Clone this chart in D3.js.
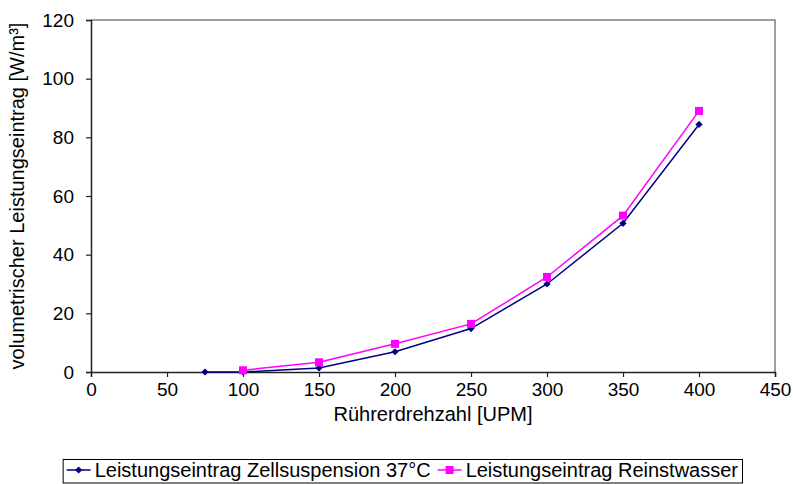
<!DOCTYPE html>
<html>
<head>
<meta charset="utf-8">
<script src="https://cdn.jsdelivr.net/npm/d3@7"></script>
<style>
  html, body { margin: 0; padding: 0; background: #fff; }
  svg { display: block; font-family: "Liberation Sans", Arial, sans-serif; }
</style>
</head>
<body>
<svg id="chart" width="793" height="484"></svg>
<script>
// Stirrer speed [rpm] and volumetric power input [W/m³]
const rpmCells  = [75, 100, 150, 200, 250, 300, 350, 400];
const powerCells = [0, 0, 1.4, 6.9, 14.8, 30.0, 50.7, 84.4];
const rpmWater  = [100, 150, 200, 250, 300, 350, 400];
const powerWater = [0.6, 3.3, 9.6, 16.4, 32.4, 53.3, 89.0];
const xTicks = [0, 50, 100, 150, 200, 250, 300, 350, 400, 450];
const yTicks = [0, 20, 40, 60, 80, 100, 120];
const seriesNames = ["Leistungseintrag Zellsuspension 37°C", "Leistungseintrag Reinstwasser"];

const svg = d3.select("#chart");
const plot = { left: 91, right: 775, top: 20, bottom: 372 };

const x = d3.scaleLinear().domain([0, 450]).range([plot.left, plot.right]);
const y = d3.scaleLinear().domain([0, 120]).range([plot.bottom, plot.top]);

// plot area frame (top and right)
svg.append("path")
  .attr("d", `M${plot.left},${plot.top}H${plot.right}V${plot.bottom}`)
  .attr("fill", "none").attr("stroke", "#808080").attr("stroke-width", 1.5);

const tickFont = 19;
const titleFont = 20;

// y axis
const yAxis = svg.append("g")
  .attr("transform", `translate(${plot.left},0)`)
  .call(d3.axisLeft(y).tickValues(yTicks).tickSize(5).tickPadding(12).tickFormat(d3.format("d")));
yAxis.select(".domain").attr("stroke", "#222").attr("stroke-width", 1.5);
yAxis.selectAll(".tick line").attr("stroke", "#222").attr("stroke-width", 1.2);
yAxis.selectAll("text").attr("font-size", tickFont).attr("fill", "#000").attr("font-family", "Liberation Sans, Arial, sans-serif");

// x axis
const xAxis = svg.append("g")
  .attr("transform", `translate(0,${plot.bottom})`)
  .call(d3.axisBottom(x).tickValues(xTicks).tickSize(5).tickPadding(6).tickFormat(d3.format("d")));
xAxis.select(".domain").attr("stroke", "#222").attr("stroke-width", 1.5);
xAxis.selectAll(".tick line").attr("stroke", "#222").attr("stroke-width", 1.2);
xAxis.selectAll("text").attr("font-size", tickFont).attr("fill", "#000").attr("font-family", "Liberation Sans, Arial, sans-serif");

// axis titles
svg.append("text")
  .attr("x", (plot.left + plot.right) / 2).attr("y", 421)
  .attr("text-anchor", "middle").attr("font-size", titleFont)
  .text("Rührerdrehzahl [UPM]");
svg.append("text")
  .attr("transform", `translate(24,${(plot.top + plot.bottom) / 2}) rotate(-90)`)
  .attr("text-anchor", "middle").attr("font-size", titleFont)
  .text("volumetrischer Leistungseintrag [W/m³]");

const line = d3.line().x(d => x(d[0])).y(d => y(d[1]));
const cells = rpmCells.map((r, i) => [r, powerCells[i]]);
const water = rpmWater.map((r, i) => [r, powerWater[i]]);

const navy = "#000080", magenta = "#FF00FF";
// square diamond marker: a square symbol turned by 45°
const diamond = d3.symbol().type(d3.symbolSquare).size(26);

// cell suspension series
svg.append("path").datum(cells).attr("d", line)
  .attr("fill", "none").attr("stroke", navy).attr("stroke-width", 1.5);
svg.append("g").selectAll("path").data(cells).join("path")
  .attr("d", diamond)
  .attr("transform", d => `translate(${x(d[0])},${y(d[1])}) rotate(45)`)
  .attr("fill", navy);

// pure water series
svg.append("path").datum(water).attr("d", line)
  .attr("fill", "none").attr("stroke", magenta).attr("stroke-width", 1.5);
svg.append("g").selectAll("rect").data(water).join("rect")
  .attr("x", d => x(d[0]) - 4).attr("y", d => y(d[1]) - 4)
  .attr("width", 8).attr("height", 8).attr("fill", magenta);

// legend: entries laid out left to right, box sized to content, right edge fixed
const lg = svg.append("g");
const box = lg.append("rect").attr("fill", "#fff").attr("stroke", "#000").attr("stroke-width", 1);
const cy = 470;
const entryGap = 7;
let cursor = 0;
seriesNames.forEach((name, i) => {
  const g = lg.append("g");
  const color = i === 0 ? navy : magenta;
  g.append("line").attr("x1", cursor).attr("x2", cursor + 24).attr("y1", cy).attr("y2", cy)
    .attr("stroke", color).attr("stroke-width", 1.5);
  if (i === 0) {
    g.append("path").attr("d", diamond).attr("transform", `translate(${cursor + 12},${cy}) rotate(45)`).attr("fill", color);
  } else {
    g.append("rect").attr("x", cursor + 8).attr("y", cy - 4).attr("width", 8).attr("height", 8).attr("fill", color);
  }
  const t = g.append("text").attr("x", cursor + 28).attr("y", cy + 7)
    .attr("font-size", titleFont).text(name);
  cursor += 28 + t.node().getComputedTextLength() + entryGap;
});
const contentW = cursor - entryGap;
const boxRight = 742, pad = 4;
const boxLeft = boxRight - contentW - 2 * pad;
lg.selectAll("g").attr("transform", `translate(${boxLeft + pad},0)`);
box.attr("x", boxLeft + 0.5).attr("y", 459.5).attr("width", boxRight - boxLeft).attr("height", 23.5);
</script>
</body>
</html>
